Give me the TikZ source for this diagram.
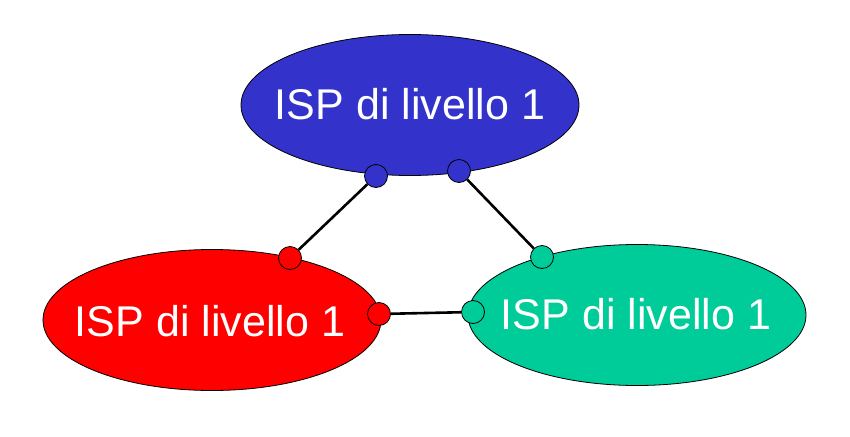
\documentclass[tikz,border=0pt]{standalone}
\usepackage{fontspec}
\setmainfont{Liberation Sans}
\usepackage{tikz}
\usetikzlibrary{shapes.geometric}
\definecolor{ispblue}{HTML}{3333CC}
\definecolor{ispred}{HTML}{FF0000}
\definecolor{ispgreen}{HTML}{00CC99}

\begin{document}
\begin{tikzpicture}[x=1pt,y=-1pt]
    \tikzstyle{isp}=[ellipse, draw=black, line width=0.8pt,
            minimum width=338pt, minimum height=141pt, inner sep=0pt]
    \tikzstyle{isptext}=[text=white, font=\fontsize{43}{43}\selectfont,
            inner sep=0pt]
    \tikzstyle{port}=[circle, draw=black, line width=0.8pt,
            minimum size=23pt, inner sep=0pt]
    \tikzstyle{link}=[line width=2.6pt]

        \useasboundingbox (0,0) rectangle (850,436);

        \node[isp, fill=ispblue] (top) at (410,105) {};
        \node[isp, fill=ispred] (left) at (212,320) {};
        \node[isp, fill=ispgreen] (right) at (637,315) {};

        \node[isptext] at (410,104) {ISP di livello 1};
        \node[isptext] at (210,321) {ISP di livello 1};
        \node[isptext] at (636,314) {ISP di livello 1};

        % porte di collegamento
        \node[port, fill=ispblue] (t1) at (376,176) {};
        \node[port, fill=ispblue] (t2) at (459,171) {};
        \node[port, fill=ispred] (l1) at (290,258) {};
        \node[port, fill=ispred] (l2) at (379,314) {};
        \node[port, fill=ispgreen] (r1) at (542,257) {};
        \node[port, fill=ispgreen] (r2) at (473,312) {};

        \draw[link] (t1) -- (l1);
        \draw[link] (t2) -- (r1);
        \draw[link] (l2) -- (r2);

    \end{tikzpicture}
\end{document}
